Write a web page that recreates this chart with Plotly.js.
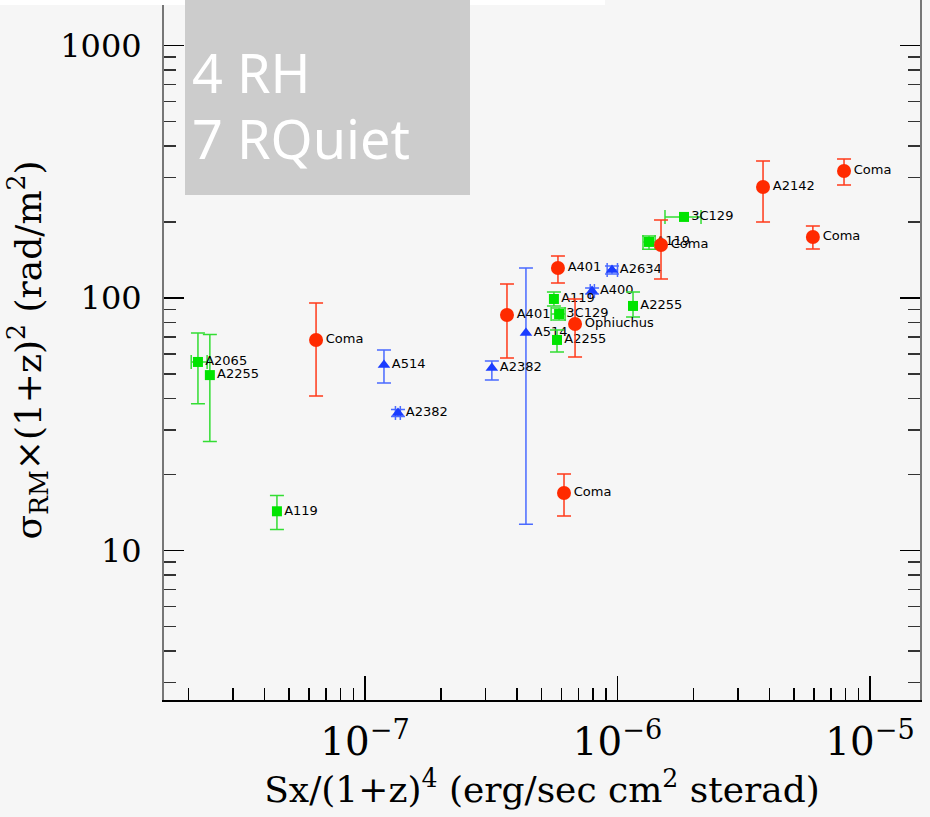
<!DOCTYPE html>
<html>
<head>
<meta charset="utf-8">
<script src="https://cdn.plot.ly/plotly-3.0.1.min.js"></script>
<style>
html,body{margin:0;padding:0;background:#f6f6f6;}
#chart{width:930px;height:817px;}
</style>
</head>
<body>
<div id="chart"></div>
<script>
// ---- Data ----
// Red circles
const redX     = [6.40e-8, 6.14e-7, 3.65e-7, 5.81e-7, 6.79e-7, 1.487e-6, 3.77e-6, 5.94e-6, 7.89e-6];
const redY     = [68.2, 16.9, 85.6, 131.5, 78.9, 162.2, 275.2, 174.4, 318.4];
const redYHi   = [95.5, 20.1, 113.6, 146.6, 99.1, 203.7, 348.9, 192.8, 355.2];
const redYLo   = [40.9, 13.7, 57.9, 114.7, 58.4, 118.9, 200.0, 156.3, 280.3];
const redNames = ['Coma', 'Coma', 'A401', 'A401', 'Ophiuchus', 'Coma', 'A2142', 'Coma', 'Coma'];

// Green squares
const grnX     = [2.18e-8, 2.43e-8, 4.48e-8, 5.60e-7, 5.87e-7, 5.76e-7, 1.152e-6, 1.333e-6, 1.834e-6];
const grnY     = [55.8, 49.5, 14.3, 99.1, 86.4, 68.2, 93.0, 166.7, 209.4];
const grnYHi   = [72.7, 71.6, 16.5, 105.6, 91.2, 74.6, 105.6, 176.0, null];
const grnYLo   = [38.1, 27.0, 12.1, 93.0, 81.8, 61.1, 84.1, 156.0, null];
const grnXLo   = [2.05e-8, null, null, null, 5.46e-7, null, null, 1.262e-6, 1.542e-6];
const grnXHi   = [2.37e-8, null, null, null, 6.20e-7, null, null, 1.409e-6, 2.142e-6];
const grnNames = ['A2065', 'A2255', 'A119', 'A119', '3C129', 'A2255', 'A2255', 'A119', '3C129'];

// Blue triangles
const bluX     = [1.189e-7, 1.351e-7, 3.18e-7, 4.34e-7, 7.93e-7, 9.51e-7];
const bluY     = [54.3, 35.0, 52.8, 72.7, 106.6, 129.1];
const bluYHi   = [62.2, 36.2, 56.3, 131.5, 109.5, 133.9];
const bluYLo   = [46.1, 33.9, 47.3, 12.7, 103.8, 124.5];
const bluXLo   = [null, 1.32e-7, null, null, 7.80e-7, 9.10e-7];
const bluXHi   = [null, 1.38e-7, null, null, 8.10e-7, 1.00e-6];
const bluNames = ['A514', 'A2382', 'A2382', 'A514', 'A400', 'A2634'];

const boxLines = ['4 RH', '7 RQuiet'];
const xTitle = 'Sx/(1+z)<sup>4</sup> (erg/sec cm<sup>2</sup> sterad)';
const yTitle = 'σ<sub>RM</sub>×(1+z)<sup>2</sup> (rad/m<sup>2</sup>)';

// ---- helpers ----
function plus(v, hi)  { return v.map((y, i) => hi[i] == null ? NaN : hi[i] - y); }
function minus(v, lo) { return v.map((y, i) => lo[i] == null ? NaN : y - lo[i]); }

const labelFont = {family: 'DejaVu Sans, sans-serif', size: 13, color: '#000'};

function mkTrace(x, y, hi, lo, xlo, xhi, names, symbol, size, mcol, ecol) {
  const t = {
    type: 'scatter', mode: 'markers+text',
    x: x, y: y, text: names, textposition: 'middle right',
    textfont: labelFont, cliponaxis: false, showlegend: false,
    marker: {symbol: symbol, size: size, color: mcol, line: {width: 0}},
    error_y: {type: 'data', symmetric: false, array: plus(y, hi), arrayminus: minus(y, lo),
              color: ecol, thickness: 1.5, width: 7}
  };
  if (xlo) {
    t.error_x = {type: 'data', symmetric: false, array: plus(x, xhi), arrayminus: minus(x, xlo),
                 color: ecol, thickness: 1.5, width: 7};
  }
  return t;
}

const traces = [
  mkTrace(bluX, bluY, bluYHi, bluYLo, bluXLo, bluXHi, bluNames, 'triangle-up', 11, '#1a3cff', '#4a6aff'),
  mkTrace(grnX, grnY, grnYHi, grnYLo, grnXLo, grnXHi, grnNames, 'square', 10, '#00e400', '#33dd33'),
  mkTrace(redX, redY, redYHi, redYLo, null, null, redNames, 'circle', 14, '#ff2a00', '#ff3a1a')
];

const serif = 'DejaVu Serif, serif';
const W = 930, H = 817, L = 164, R = 10, T = 0, B = 117;
const pw = W - L - R, ph = H - T - B;
function px(xp) { return (xp - L) / pw; }
function py(yp) { return 1 - (yp - T) / ph; }

const layout = {
  width: W, height: H,
  margin: {l: L, r: R, t: T, b: B, pad: 0},
  paper_bgcolor: '#f6f6f6', plot_bgcolor: '#f6f6f6',
  showlegend: false,
  xaxis: {
    type: 'log', range: [-7.796, -4.802],
    tickmode: 'linear', tick0: 0, dtick: 1, exponentformat: 'power',
    ticks: 'inside', ticklen: 24, tickwidth: 1.5, tickcolor: '#000',
    minor: {ticks: 'inside', ticklen: 12, tickwidth: 1.5, tickcolor: '#000', dtick: 'D1', showgrid: false},
    showline: true, linecolor: '#000', linewidth: 2, mirror: false,
    showgrid: false, zeroline: false,
    ticklabelstandoff: 8,
    tickfont: {family: serif, size: 31, color: '#000'},
    title: {text: xTitle, font: {family: serif, size: 36, color: '#000'}, standoff: 6}
  },
  yaxis: {
    type: 'log', range: [0.408, 3.180],
    tickmode: 'linear', tick0: 0, dtick: 1, exponentformat: 'none',
    ticks: 'inside', ticklen: 20, tickwidth: 1.5, tickcolor: '#000',
    minor: {ticks: 'inside', ticklen: 12, tickwidth: 1.5, tickcolor: '#333', dtick: 'D1', showgrid: false},
    showline: true, linecolor: '#777', linewidth: 2, mirror: 'ticks',
    showgrid: false, zeroline: false,
    ticklabelstandoff: 14,
    tickfont: {family: serif, size: 32, color: '#000'},
    title: {text: yTitle, font: {family: serif, size: 36, color: '#000'}, standoff: 8}
  },
  shapes: [
    {type: 'rect', xref: 'paper', yref: 'paper', x0: px(0), x1: px(605), y0: py(5), y1: py(-5),
     fillcolor: '#ffffff', line: {width: 0}, layer: 'above'},
    {type: 'rect', xref: 'paper', yref: 'paper', x0: px(185), x1: px(470), y0: py(195), y1: py(-5),
     fillcolor: '#cccccc', line: {width: 0}, layer: 'above'}
  ],
  annotations: [
    {xref: 'paper', yref: 'paper', x: px(190), y: py(72), xanchor: 'left', yanchor: 'middle',
     text: boxLines[0], showarrow: false, font: {family: 'Noto Sans, sans-serif', size: 54, color: '#ffffff'}},
    {xref: 'paper', yref: 'paper', x: px(190), y: py(138), xanchor: 'left', yanchor: 'middle',
     text: boxLines[1], showarrow: false, font: {family: 'Noto Sans, sans-serif', size: 54, color: '#ffffff'}}
  ]
};

Plotly.newPlot('chart', traces, layout, {displayModeBar: false, staticPlot: true});
</script>
</body>
</html>
